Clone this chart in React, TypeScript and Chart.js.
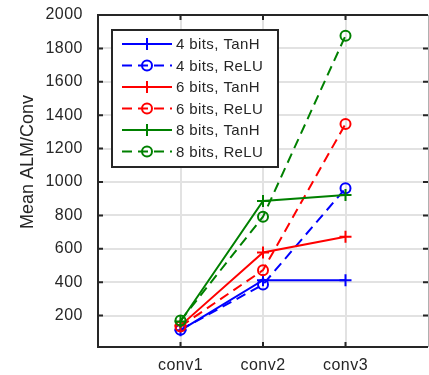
import React, { useEffect, useRef } from 'react';
import { Chart, registerables } from 'chart.js';

Chart.register(...registerables);

const categories = ['conv1', 'conv2', 'conv3'];
const categoryPositions = [1, 2, 3];
const yTickValues = [200, 400, 600, 800, 1000, 1200, 1400, 1600, 1800, 2000];
const seriesLabels = ['4 bits, TanH', '4 bits, ReLU', '6 bits, TanH', '6 bits, ReLU', '8 bits, TanH', '8 bits, ReLU'];
const seriesColors = ['#0000ff', '#0000ff', '#ff0000', '#ff0000', '#008000', '#008000'];
const seriesDashed = [false, true, false, true, false, true];
const bits4TanH = [112, 412, 412];
const bits4ReLU = [115, 386, 962];
const bits6TanH = [140, 578, 672];
const bits6ReLU = [135, 472, 1348];
const bits8TanH = [165, 886, 922];
const bits8ReLU = [170, 792, 1876];
const seriesValues = [bits4TanH, bits4ReLU, bits6TanH, bits6ReLU, bits8TanH, bits8ReLU];
const yLabel = 'Mean ALM/Conv';

const TEXT = '#262626';
const FONT = '"Liberation Sans", Arial, sans-serif';
const DASH = [10, 6];

const spacingPlugin = {
  id: 'spacing',
  beforeDraw(chart: any) {
    (chart.ctx as any).letterSpacing = '0.5px';
  },
};

const framePlugin = {
  id: 'frame',
  afterDatasetsDraw(chart: any) {
    const { ctx, chartArea: a, scales } = chart;
    ctx.save();
    ctx.strokeStyle = TEXT;
    ctx.lineWidth = 2;
    const tl = 5;
    ctx.beginPath();
    yTickValues.forEach((v) => {
      const y = scales.y.getPixelForValue(v);
      ctx.moveTo(a.left, y);
      ctx.lineTo(a.left + tl, y);
      ctx.moveTo(a.right, y);
      ctx.lineTo(a.right - tl, y);
    });
    categoryPositions.forEach((v) => {
      const x = scales.x.getPixelForValue(v);
      ctx.moveTo(x, a.bottom);
      ctx.lineTo(x, a.bottom - tl);
      ctx.moveTo(x, a.top);
      ctx.lineTo(x, a.top + tl);
    });
    ctx.stroke();
    ctx.beginPath();
    ctx.moveTo(a.right, a.top);
    ctx.lineTo(a.left, a.top);
    ctx.lineTo(a.left, a.bottom);
    ctx.lineTo(a.right, a.bottom);
    ctx.stroke();
    ctx.strokeStyle = '#b0b0b0';
    ctx.lineWidth = 1;
    ctx.beginPath();
    ctx.moveTo(a.right + 0.5, a.top);
    ctx.lineTo(a.right + 0.5, a.bottom);
    ctx.stroke();
    ctx.restore();
  },
};

const yTitlePlugin = {
  id: 'ytitle',
  afterDraw(chart: any) {
    const { ctx } = chart;
    ctx.save();
    (ctx as any).letterSpacing = '0px';
    ctx.translate(28, 162);
    ctx.rotate(-Math.PI / 2);
    ctx.fillStyle = TEXT;
    ctx.font = `18px ${FONT}`;
    ctx.textAlign = 'center';
    ctx.textBaseline = 'middle';
    ctx.fillText(yLabel, 0, 0);
    ctx.restore();
  },
};

const legendPlugin = {
  id: 'boxlegend',
  afterDraw(chart: any) {
    const { ctx } = chart;
    const bx = 112, by = 30, bw = 166, bh = 137;
    ctx.save();
    (ctx as any).letterSpacing = '0.4px';
    ctx.fillStyle = '#ffffff';
    ctx.fillRect(bx, by, bw, bh);
    ctx.strokeStyle = TEXT;
    ctx.lineWidth = 2;
    ctx.strokeRect(bx, by, bw, bh);
    chart.data.datasets.forEach((ds: any, i: number) => {
      const y = by + 14 + i * 21.5;
      const x0 = bx + 10, x1 = bx + 60, xm = (x0 + x1) / 2;
      ctx.strokeStyle = ds.borderColor;
      ctx.lineWidth = 2;
      ctx.setLineDash(ds.borderDash || []);
      ctx.beginPath();
      ctx.moveTo(x0, y);
      ctx.lineTo(x1, y);
      ctx.stroke();
      ctx.setLineDash([]);
      ctx.beginPath();
      if (ds.pointStyle === 'circle') {
        ctx.arc(xm, y, 5, 0, Math.PI * 2);
      } else {
        ctx.moveTo(xm - 6, y);
        ctx.lineTo(xm + 6, y);
        ctx.moveTo(xm, y - 6);
        ctx.lineTo(xm, y + 6);
      }
      ctx.stroke();
      ctx.fillStyle = TEXT;
      ctx.font = `15px ${FONT}`;
      ctx.textAlign = 'left';
      ctx.textBaseline = 'middle';
      ctx.fillText(ds.label, x1 + 4, y + 1);
    });
    ctx.restore();
  },
};

const zeroPad = (axis: any) => {
  axis.paddingTop = 0;
  axis.paddingBottom = 0;
  axis.paddingLeft = 0;
  axis.paddingRight = 0;
};

export default function App() {
  const ref = useRef<HTMLCanvasElement | null>(null);
  useEffect(() => {
    if (!ref.current) return;
    const datasets = seriesValues.map((vals, i) => ({
      label: seriesLabels[i],
      data: vals.map((v, j) => ({ x: categoryPositions[j], y: v })),
      borderColor: seriesColors[i],
      backgroundColor: 'rgba(0,0,0,0)',
      pointBorderColor: seriesColors[i],
      pointBackgroundColor: 'rgba(0,0,0,0)',
      borderWidth: 2,
      borderDash: seriesDashed[i] ? DASH : [],
      pointStyle: seriesDashed[i] ? 'circle' : 'cross',
      pointRadius: seriesDashed[i] ? 5 : 6,
      pointBorderWidth: 2,
      tension: 0,
      fill: false,
      order: seriesValues.length - i,
    }));
    const chart = new Chart(ref.current, {
      type: 'line',
      data: { datasets },
      options: {
        animation: false,
        responsive: false,
        devicePixelRatio: 1,
        layout: { autoPadding: false, padding: { left: 0, right: 1, top: 15, bottom: 0 } },
        plugins: { legend: { display: false }, tooltip: { enabled: false }, title: { display: false } },
        scales: {
          x: {
            type: 'linear',
            min: 0,
            max: 4,
            afterBuildTicks: (axis: any) => {
              axis.ticks = categoryPositions.map((v) => ({ value: v }));
            },
            afterFit: (axis: any) => {
              axis.height = 28;
              zeroPad(axis);
            },
            ticks: {
              callback: (v: any) => categories[categoryPositions.indexOf(Number(v))] ?? '',
              color: TEXT,
              font: { family: FONT, size: 16 },
              padding: 9,
              maxRotation: 0,
              autoSkip: false,
            },
            grid: { color: '#e2e2e2', lineWidth: 2, drawTicks: false },
            border: { display: false },
          },
          y: {
            type: 'linear',
            min: 12,
            max: 2000,
            afterBuildTicks: (axis: any) => {
              axis.ticks = yTickValues.map((v) => ({ value: v }));
            },
            afterFit: (axis: any) => {
              axis.width = 98;
              zeroPad(axis);
            },
            ticks: {
              callback: (v: any) => String(v),
              color: TEXT,
              font: { family: FONT, size: 16 },
              padding: 15,
              autoSkip: false,
            },
            grid: { color: '#e2e2e2', lineWidth: 2, drawTicks: false },
            border: { display: false },
          },
        },
      },
      plugins: [spacingPlugin, framePlugin, legendPlugin, yTitlePlugin],
    } as any);
    return () => chart.destroy();
  }, []);
  return (
    <div style={{ position: 'absolute', left: 0, top: 0, width: 429, height: 375, background: '#fff' }}>
      <canvas ref={ref} width={429} height={375} style={{ display: 'block' }} />
    </div>
  );
}
